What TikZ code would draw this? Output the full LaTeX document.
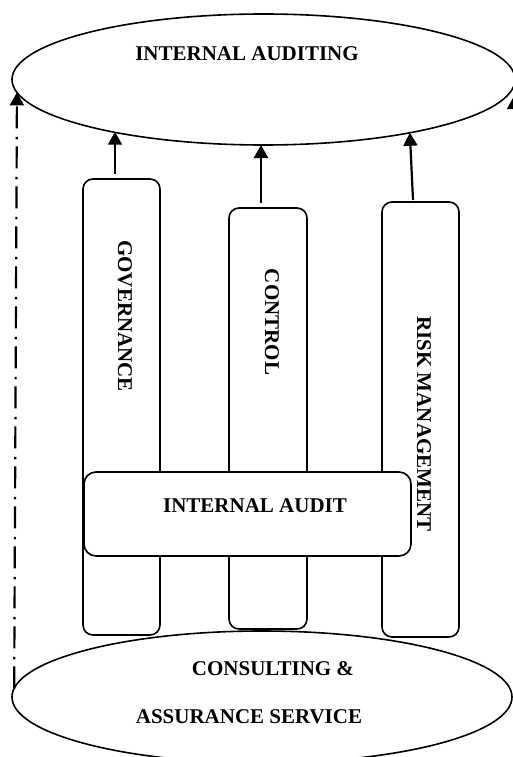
\documentclass[tikz,border=0pt]{standalone}
\usepackage{fontspec}
\setmainfont{Liberation Serif}
\usetikzlibrary{shapes.geometric,arrows.meta}

\tikzstyle{oval} = [ellipse, draw=black, line width=1.6pt, minimum width=503pt, minimum height=131pt, inner sep=0pt, outer sep=0pt]
\tikzstyle{pillar} = [rectangle, rounded corners=10pt, draw=black, line width=1.6pt, minimum width=77pt, inner sep=0pt, outer sep=0pt]
\tikzstyle{lbl} = [font=\bfseries\fontsize{21}{25}\selectfont, inner sep=0pt]
\tikzstyle{toarrow} = [-{Triangle[length=13pt,width=14pt]}, line width=2.2pt]
\tikzstyle{linkdash} = [toarrow, line width=2.2pt, dash pattern=on 22pt off 7pt on 2.5pt off 8.5pt]

\begin{document}
\begin{tikzpicture}[x=1pt,y=-1pt]
\useasboundingbox (0,0) rectangle (512,757);

\node[oval] (Audit) at (263.5,79.5) {};
\node[oval, minimum width=500pt, minimum height=132pt] (Service) at (262,697) {};

\node[pillar, minimum height=456pt] (Gov) at (121.5,407) {};
\node[pillar, minimum height=421pt, minimum width=78pt] (Ctrl) at (268,418.5) {};
\node[pillar, minimum height=435pt] (Risk) at (420.5,419.5) {};
\node[pillar, fill=white, minimum width=327pt, minimum height=84pt, rounded corners=12pt] (IA) at (247.5,514) {};

\node[lbl] (AuditText) at (247,54) {INTERNAL AUDITING};
\node[lbl, rotate=-90] (GovText) at (125,316) {GOVERNANCE};
\node[lbl, rotate=-90] (CtrlText) at (272,322) {CONTROL};
\node[lbl, rotate=-90] (RiskText) at (424,424) {RISK MANAGEMENT};
\node[lbl] (IAText) at (255,506) {INTERNAL AUDIT};
\node[lbl] (ServiceTextA) at (273,669) {CONSULTING \&};
\node[lbl] (ServiceTextB) at (249,717) {ASSURANCE SERVICE};

% arrow feet just above the pillars
\coordinate (GovFoot) at ([xshift=-6.5pt,yshift=5pt]Gov.north);
\coordinate (CtrlFoot) at ([xshift=-7pt,yshift=5pt]Ctrl.north);
\coordinate (RiskFoot) at ([xshift=-7.5pt,yshift=2pt]Risk.north);

\path[toarrow]
  (GovFoot) edge (GovFoot |- Audit.199.6)
  (CtrlFoot) edge (CtrlFoot |- Audit.south)
  (RiskFoot) edge (Audit.340.3)
  ;
\path[linkdash]
  (Service.178) edge (Audit.183.6)
  ([xshift=6pt]Service.east) edge ([xshift=-1pt,yshift=-16.5pt]Audit.east)
  ;

\end{tikzpicture}
\end{document}
